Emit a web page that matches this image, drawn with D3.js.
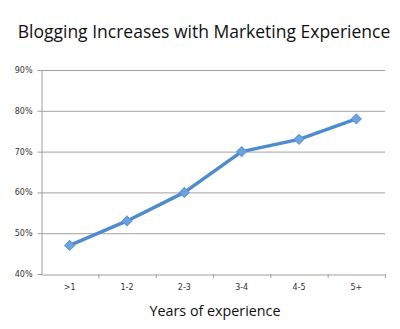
<!DOCTYPE html>
<html><head><meta charset="utf-8">
<script src="https://cdn.jsdelivr.net/npm/d3@7"></script>
<style>body{margin:0;background:#fff}svg{display:block}</style>
</head><body>
<script>
const categories = [">1","1-2","2-3","3-4","4-5","5+"];
const values = [47,53,60,70,73,78];
const yTicks = [40,50,60,70,80,90];
const title = "Blogging Increases with Marketing Experience";
const xTitle = "Years of experience";

const W=400,H=329;
const m={left:41,right:15,top:70,bottom:55};
const svg=d3.select("body").append("svg").attr("width",W).attr("height",H);
const x=d3.scaleBand().domain(categories).range([m.left,W-m.right]);
const y=d3.scaleLinear().domain([40,90]).range([H-m.bottom,m.top]);

svg.append("text").attr("x",204).attr("y",38).attr("text-anchor","middle")
  .attr("font-family","Open Sans").attr("font-size",17.5).attr("fill","#111").text(title);

// gridlines
svg.append("g").selectAll("line").data(yTicks.slice(1)).join("line")
  .attr("x1",m.left).attr("x2",W-m.right).attr("y1",d=>y(d)+0.5).attr("y2",d=>y(d)+0.5)
  .attr("stroke","#a0a0a0").attr("stroke-width",1);

const yAxis=svg.append("g").attr("transform",`translate(${m.left+0.5},0)`)
  .call(d3.axisLeft(y).tickValues(yTicks).tickFormat(d=>d+"%").tickSize(4).tickPadding(5));
yAxis.select(".domain").attr("stroke","#a0a0a0");
yAxis.selectAll(".tick line").attr("stroke","#a0a0a0");
yAxis.selectAll("text").attr("font-family","DejaVu Sans").attr("font-size",8).attr("fill","#333");

const xAxis=svg.append("g").attr("transform",`translate(0,${H-m.bottom+0.5})`)
  .call(d3.axisBottom(x).tickSize(0).tickPadding(10));
xAxis.select(".domain").attr("stroke","#a0a0a0");
xAxis.selectAll("text").attr("font-family","DejaVu Sans").attr("font-size",8).attr("fill","#333");
// band boundary ticks
svg.append("g").selectAll("line").data(categories.slice(1).concat(["_end"])).join("line")
  .attr("x1",d=>d==="_end"?W-m.right+0.5:x(d)+0.5).attr("x2",d=>d==="_end"?W-m.right+0.5:x(d)+0.5)
  .attr("y1",H-m.bottom).attr("y2",H-m.bottom+4).attr("stroke","#a0a0a0");

svg.append("text").attr("x",215).attr("y",316).attr("text-anchor","middle")
  .attr("font-family","Open Sans").attr("font-size",14.3).attr("fill","#111").text(xTitle);

const line=d3.line().x((d,i)=>x(categories[i])+x.bandwidth()/2).y(d=>y(d));
svg.append("path").datum(values).attr("d",line).attr("fill","none")
  .attr("stroke","#4f8ccf").attr("stroke-width",3.5).attr("stroke-linejoin","round");
svg.append("g").selectAll("path").data(values).join("path")
  .attr("d",d3.symbol(d3.symbolSquare,48))
  .attr("transform",(d,i)=>`translate(${x(categories[i])+x.bandwidth()/2},${y(d)}) rotate(45)`)
  .attr("fill","#6fa3de").attr("stroke","#5b95d4").attr("stroke-width",1);
</script>
</body></html>
